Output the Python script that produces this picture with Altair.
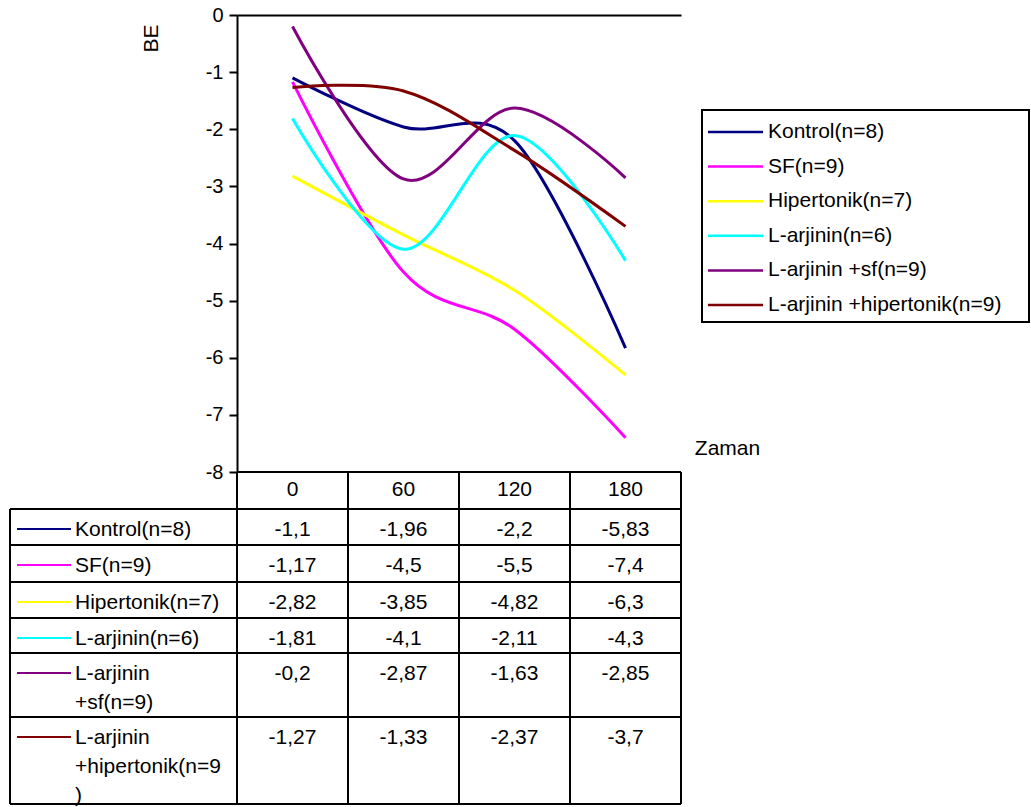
import altair as alt
import pandas as pd

# ---------------- data ----------------
series = ["Kontrol(n=8)", "SF(n=9)", "Hipertonik(n=7)", "L-arjinin(n=6)",
          "L-arjinin +sf(n=9)", "L-arjinin +hipertonik(n=9)"]
table_labels = ["Kontrol(n=8)", "SF(n=9)", "Hipertonik(n=7)", "L-arjinin(n=6)",
                "L-arjinin\n+sf(n=9)", "L-arjinin\n+hipertonik(n=9\n)"]
times = ["0", "60", "120", "180"]
kontrol = [-1.1, -1.96, -2.2, -5.83]
sf = [-1.17, -4.5, -5.5, -7.4]
hipertonik = [-2.82, -3.85, -4.82, -6.3]
larjinin = [-1.81, -4.1, -2.11, -4.3]
larjinin_sf = [-0.2, -2.87, -1.63, -2.85]
larjinin_hip = [-1.27, -1.33, -2.37, -3.7]
values = [kontrol, sf, hipertonik, larjinin, larjinin_sf, larjinin_hip]
colors = ["#000080", "#FF00FF", "#FFFF00", "#00FFFF", "#800080", "#800000"]

# ---------------- layout (pixels, plot-local) ----------------
W = 444
H = 790
AXIS_BOTTOM = 457            # y position of -8
COL_W = W / len(times)
LABEL_COL_LEFT = -227
ROW_EDGES = [494, 530, 567, 603, 638, 702, 789]   # data row tops + bottom
FONT = "Liberation Sans"
FS = 21

def num_txt(v):
    return str(v).replace(".", ",")

lines_rows, cell_rows, label_rows = [], [], []
for si, s in enumerate(series):
    top = ROW_EDGES[si]
    label_rows.append({"series": s, "label": table_labels[si], "top": top})
    for ti, t in enumerate(times):
        v = values[si][ti]
        lines_rows.append({"series": s, "Zaman": t, "BE": v, "o": ti})
        cell_rows.append({"series": s, "Zaman": t, "txt": num_txt(v), "top": top})
lines_df = pd.DataFrame(lines_rows)
cells_df = pd.DataFrame(cell_rows)
labels_df = pd.DataFrame(label_rows)
header_df = pd.DataFrame({"Zaman": times, "top": [AXIS_BOTTOM] * len(times)})

hl = [{"y": AXIS_BOTTOM, "x1": 0, "x2": W}] + [{"y": y, "x1": LABEL_COL_LEFT, "x2": W} for y in ROW_EDGES]
vl = [{"x": LABEL_COL_LEFT, "y1": ROW_EDGES[0], "y2": ROW_EDGES[-1]}] + \
     [{"x": i * COL_W, "y1": AXIS_BOTTOM, "y2": ROW_EDGES[-1]} for i in range(len(times) + 1)]
hl_df = pd.DataFrame(hl)
vl_df = pd.DataFrame(vl)
legend_df = pd.DataFrame({"series": series})

color = alt.Color("series:N", scale=alt.Scale(domain=series, range=colors), legend=None)
xpoint = alt.Scale(type="point", domain=times, range=[0, W], padding=0.5)
px_x = alt.Scale(domain=[LABEL_COL_LEFT, W], range=[LABEL_COL_LEFT, W], nice=False, zero=False)
px_y = alt.Scale(domain=[0, H], range=[0, H], nice=False, zero=False)

lines = alt.Chart(lines_df).mark_line(interpolate="cardinal", strokeWidth=3, clip=False).encode(
    x=alt.X("Zaman:N", scale=xpoint,
            axis=alt.Axis(orient="top", labels=False, ticks=False, grid=False,
                          domainColor="black", domainWidth=2,
                          title="Zaman", titleX=490, titleY=433, titleAlign="center",
                          titleBaseline="middle", titleFont=FONT, titleFontSize=FS,
                          titleFontWeight="normal", titleColor="black")),
    y=alt.Y("BE:Q", scale=alt.Scale(domain=[-8, 0], range=[AXIS_BOTTOM, 0], nice=False, zero=False),
            axis=alt.Axis(values=list(range(-8, 1)), labelExpr="'' + datum.value",
                          tickSize=8, tickColor="black", tickWidth=2, grid=False,
                          domainColor="black", domainWidth=2,
                          labelFont=FONT, labelFontSize=20, labelColor="black", labelPadding=6,
                          title="BE", titleAngle=270, titleX=-86, titleY=23,
                          titleAlign="center", titleBaseline="middle",
                          titleFont=FONT, titleFontSize=FS, titleFontWeight="normal",
                          titleColor="black")),
    color=color,
    order="o:Q",
)

hrules = alt.Chart(hl_df).mark_rule(color="black", strokeWidth=2).encode(
    x=alt.X("x1:Q", scale=px_x, axis=None), x2="x2:Q",
    y=alt.Y("y:Q", scale=px_y, axis=None),
)
vrules = alt.Chart(vl_df).mark_rule(color="black", strokeWidth=2).encode(
    x=alt.X("x:Q", scale=px_x, axis=None),
    y=alt.Y("y1:Q", scale=px_y, axis=None), y2="y2:Q",
)

header = alt.Chart(header_df).mark_text(font=FONT, fontSize=FS, color="black",
                                        align="center", baseline="middle", dy=18).encode(
    x=alt.X("Zaman:N", scale=xpoint, axis=None),
    y=alt.Y("top:Q", scale=px_y, axis=None),
    text="Zaman:N",
)

cells = alt.Chart(cells_df).mark_text(font=FONT, fontSize=FS, color="black",
                                      align="center", baseline="alphabetic", dy=27).encode(
    x=alt.X("Zaman:N", scale=xpoint, axis=None),
    y=alt.Y("top:Q", scale=px_y, axis=None),
    text="txt:N",
)

row_labels = alt.Chart(labels_df).mark_text(font=FONT, fontSize=FS, color="black",
                                            align="left", baseline="alphabetic", dy=27,
                                            lineBreak="\n", lineHeight=29).encode(
    x=alt.value(-162),
    y=alt.Y("top:Q", scale=px_y, axis=None),
    text="label:N",
)

row_samples = alt.Chart(labels_df).mark_rule(strokeWidth=2, yOffset=20).encode(
    x=alt.value(-220), x2=alt.value(-166),
    y=alt.Y("top:Q", scale=px_y, axis=None),
    color=color,
)

legend_box = alt.Chart(legend_df).mark_rect(fill="white", stroke="black", strokeWidth=2).encode(
    x=alt.value(465), x2=alt.value(792), y=alt.value(95), y2=alt.value(307),
)
leg_y = alt.Scale(type="point", domain=series, range=[117, 290], padding=0)
legend_lines = alt.Chart(legend_df).mark_rule(strokeWidth=2.5).encode(
    x=alt.value(471), x2=alt.value(526),
    y=alt.Y("series:N", scale=leg_y, axis=None),
    color=color,
)
legend_text = alt.Chart(legend_df).mark_text(font=FONT, fontSize=FS, color="black",
                                             align="left", baseline="middle").encode(
    x=alt.value(531),
    y=alt.Y("series:N", scale=leg_y, axis=None),
    text="series:N",
)

chart = alt.layer(
    hrules, vrules, header, cells, row_samples, row_labels,
    legend_box, legend_lines, legend_text, lines,
).resolve_scale(x="independent", y="independent", color="shared").properties(
    width=W, height=H,
    autosize=alt.AutoSizeParams(type="none"),
    padding={"left": 237, "top": 15, "right": 350, "bottom": 2},
).configure(background="white").configure_view(strokeWidth=0, stroke=None)

chart.save("out.html", embed_options={"renderer": "svg", "actions": False})
